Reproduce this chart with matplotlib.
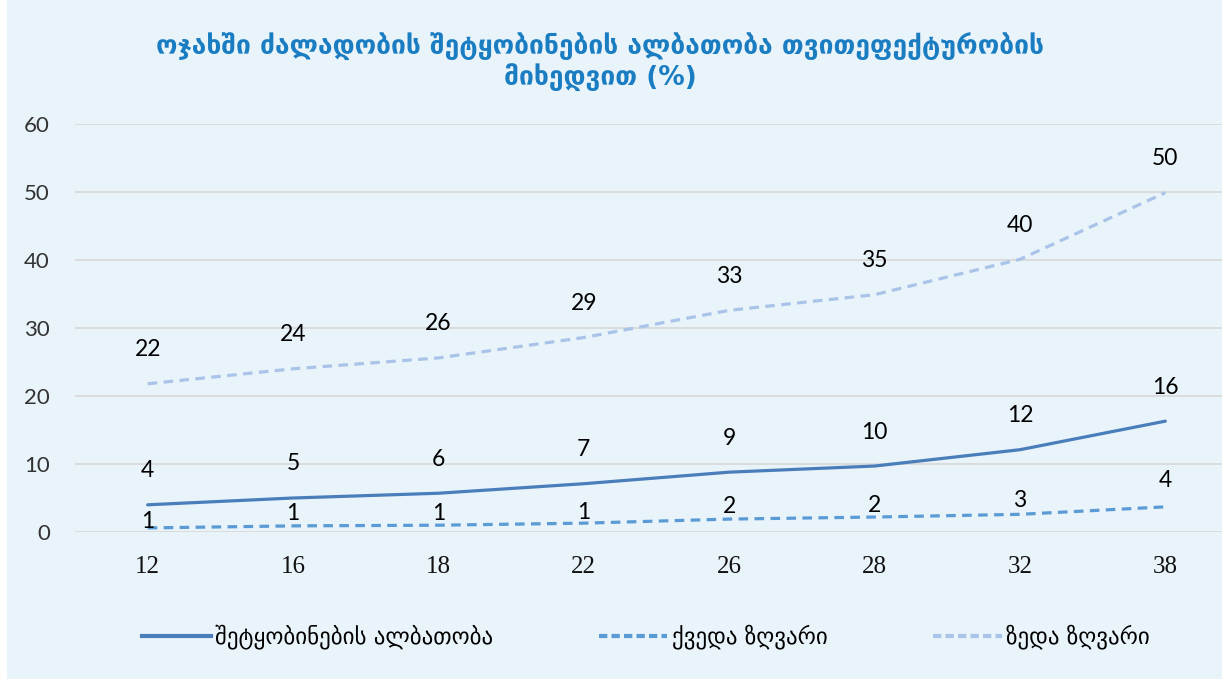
#!/usr/bin/env python3
"""Reporting probability of domestic violence by cohort effect (%)."""
import matplotlib
matplotlib.use("Agg")
import matplotlib.pyplot as plt
from matplotlib.lines import Line2D
from matplotlib.patches import Rectangle

# data
ages = ["12", "16", "18", "22", "26", "28", "32", "38"]
prob = [4.0, 5.0, 5.7, 7.1, 8.8, 9.7, 12.1, 16.3]
lower = [0.6, 0.9, 1.0, 1.3, 1.9, 2.2, 2.6, 3.7]
upper = [21.8, 24.0, 25.6, 28.6, 32.6, 34.9, 40.1, 49.9]
yticks = [0, 10, 20, 30, 40, 50, 60]

title = "ოჯახში ძალადობის შეტყობინების ალბათობა თვითეფექტურობის\nმიხედვით (%)"
names = ["შეტყობინების ალბათობა", "ქვედა ზღვარი", "ზედა ზღვარი"]

BG = "#E9F3FA"
C_PROB, C_LOW, C_UP = "#4A7EBB", "#5B9BD5", "#A9C4E8"

W, H = 1222, 679
fig = plt.figure(figsize=(W / 100, H / 100), dpi=100, facecolor="white")
fig.patches.append(Rectangle((7 / W, 0), 1, 1, transform=fig.transFigure,
                             facecolor=BG, edgecolor="none", zorder=-10))

# plot area: category slots are 145.6 px wide, last one runs past the edge
ax = fig.add_axes([75 / W, (H - 532) / H, 1163 / W, 408 / H])
ax.set_facecolor("none")
x = list(range(len(ages)))

ls_dash = (0, (3, 2))
ax.plot(x, prob, color=C_PROB, lw=2.3, solid_capstyle="round", zorder=3)
ax.plot(x, lower, color=C_LOW, lw=2.3, linestyle=ls_dash, zorder=3)
ax.plot(x, upper, color=C_UP, lw=2.3, linestyle=ls_dash, zorder=3)

# value labels (Excel placed them by hand, lower series sits close to its line)
off_low = [6, 12, 12, 11, 13, 12, 14, 26]
lab_font = dict(family="Lato", fontsize=16.5, color="black", ha="center", va="center")
for i in x:
    ax.annotate(f"{prob[i]:.0f}", (i, prob[i]), xytext=(0, 34),
                textcoords="offset pixels", **lab_font)
    ax.annotate(f"{upper[i]:.0f}", (i, upper[i]), xytext=(0, 34),
                textcoords="offset pixels", **lab_font)
    ax.annotate(f"{lower[i]:.0f}", (i, lower[i]), xytext=(0, off_low[i]),
                textcoords="offset pixels", **lab_font)

ax.set_xlim(-0.5, len(ages) - 0.5)
ax.set_ylim(0, 60)
ax.set_yticks(yticks)
ax.set_xticks(x)
ax.set_xticklabels(ages, family="Liberation Serif", fontsize=18, color="#111111")
ax.set_yticklabels([str(v) for v in yticks], family="Lato", fontsize=16, color="#333333")
ax.tick_params(axis="both", length=0)
ax.tick_params(axis="y", pad=18)
ax.tick_params(axis="x", pad=17)
ax.grid(axis="y", color="#D9D9D9", lw=1.3)
ax.set_axisbelow(True)
for s in ax.spines.values():
    s.set_visible(False)

fig.text(600 / W, 1 - 62 / H, title, ha="center", va="center", fontsize=19,
         fontweight="bold", color="#1A7DC2", family="DejaVu Sans", linespacing=1.1)

handles = [
    Line2D([], [], color=C_PROB, lw=3),
    Line2D([], [], color=C_LOW, lw=3, linestyle=(0, (2, 1))),
    Line2D([], [], color=C_UP, lw=3, linestyle=(0, (2, 1))),
]
fig.legend(handles, names, loc="center", bbox_to_anchor=(646 / W, 1 - 637 / H),
           ncol=3, frameon=False, prop=dict(family="DejaVu Sans", size=16.5),
           handlelength=3.0, handletextpad=0.2, columnspacing=4.6)

fig.savefig("out.png", dpi=100, facecolor="white")
